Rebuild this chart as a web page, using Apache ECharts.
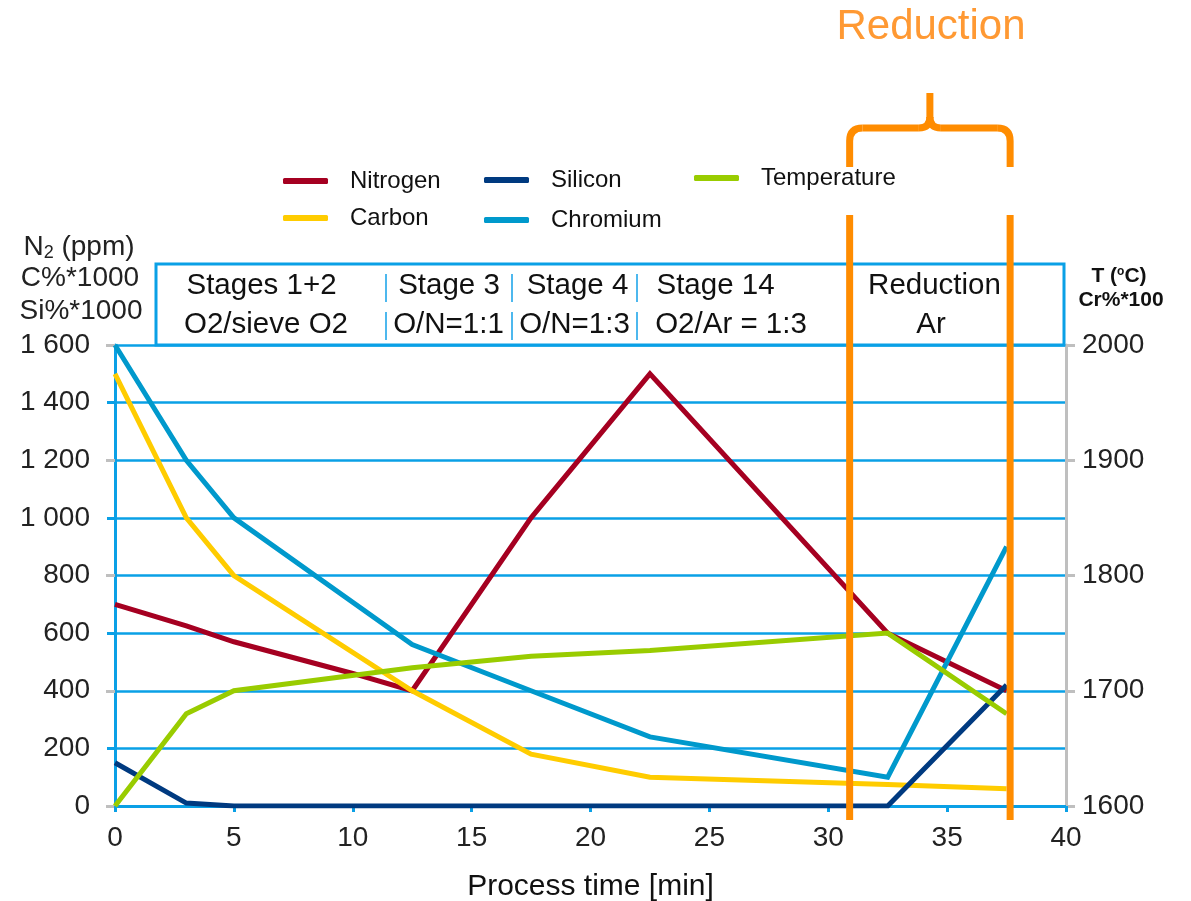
<!DOCTYPE html>
<html><head><meta charset="utf-8">
<script src="https://cdn.jsdelivr.net/npm/echarts@6/dist/echarts.min.js"></script>
<style>html,body{margin:0;padding:0;background:#fff}#c{width:1191px;height:901px}</style>
</head><body><div id="c"></div>
<script>
// ---- data ----
const nitrogenTime = [0, 3, 5, 10, 12.5, 17.5, 22.5, 32.5, 37.5];
const nitrogen     = [700, 625, 570, 460, 400, 1000, 1500, 600, 400];
const carbonTime   = [0, 3, 5, 12.5, 17.5, 22.5, 32.5, 37.5];
const carbon       = [1500, 1000, 800, 400, 180, 100, 75, 60];
const siliconTime  = [0, 3, 5, 32.5, 37.5];
const silicon      = [150, 10, 0, 0, 420];
const chromiumTime = [0, 3, 5, 12.5, 17.5, 22.5, 32.5, 37.5];
const chromium     = [2000, 1900, 1850, 1740, 1700, 1660, 1625, 1825]; // Cr%*100 (right axis)
const tempTime     = [0, 3, 5, 12.5, 17.5, 22.5, 32.5, 37.5];
const temperature  = [1600, 1680, 1700, 1720, 1730, 1735, 1750, 1680]; // °C (right axis)
const reductionStart = 30.9, reductionEnd = 37.65;
const stageRow1 = [['Stages 1+2', 261.5], ['Stage 3', 449], ['Stage 4', 577.5], ['Stage 14', 715.5], ['Reduction', 934.5]];
const stageRow2 = [['O2/sieve O2', 266], ['O/N=1:1', 448.5], ['O/N=1:3', 574.5], ['O2/Ar = 1:3', 731], ['Ar', 931]];

const FONT = "'Liberation Sans', Arial, sans-serif";
const BLUE = '#0aa0e6';
const ORANGE = '#ff8c00';
const pair = (xs, ys) => xs.map((x, i) => [x, ys[i]]);

const chart = echarts.init(document.getElementById('c'), null, {renderer: 'canvas'});

function lineSeries(name, data, color, yIdx) {
  return {name, type: 'line', data, yAxisIndex: yIdx, color, showSymbol: false, symbol: 'none',
    lineStyle: {width: 5, color, join: 'miter'}, z: 3, animation: false};
}

const graphics = [];
// header box
graphics.push({type: 'rect', shape: {x: 156, y: 264, width: 908, height: 81},
  style: {fill: 'none', stroke: BLUE, lineWidth: 3}, z: 5});
stageRow1.forEach(([t, x]) => graphics.push({type: 'text', x, y: 286,
  style: {text: t, font: '29.5px ' + FONT, fill: '#111', align: 'center', verticalAlign: 'middle'}, z: 6}));
stageRow2.forEach(([t, x]) => graphics.push({type: 'text', x, y: 325,
  style: {text: t, font: '29.5px ' + FONT, fill: '#111', align: 'center', verticalAlign: 'middle'}, z: 6}));
[386, 512, 637].forEach(x => {
  graphics.push({type: 'line', shape: {x1: x, y1: 274, x2: x, y2: 302}, style: {stroke: '#4db8ee', lineWidth: 2}, z: 6});
  graphics.push({type: 'line', shape: {x1: x, y1: 312, x2: x, y2: 340}, style: {stroke: '#4db8ee', lineWidth: 2}, z: 6});
});
// left axis titles
graphics.push({type: 'text', x: 79, y: 247, style: {
  text: 'N{sub|2} (ppm)', font: '28px ' + FONT, fill: '#222', align: 'center', verticalAlign: 'middle',
  rich: {sub: {fontSize: 18, fontFamily: FONT, fill: '#222', verticalAlign: 'bottom', padding: [12, 0, 0, 0]}}}, z: 6});
graphics.push({type: 'text', x: 80, y: 278, style: {text: 'C%*1000', font: '28px ' + FONT, fill: '#222', align: 'center', verticalAlign: 'middle'}, z: 6});
graphics.push({type: 'text', x: 81, y: 311, style: {text: 'Si%*1000', font: '28px ' + FONT, fill: '#222', align: 'center', verticalAlign: 'middle'}, z: 6});
// right axis titles
graphics.push({type: 'text', x: 1119, y: 276, style: {
  text: 'T ({sup|o}C)', font: 'bold 21px ' + FONT, fill: '#111', align: 'center', verticalAlign: 'middle',
  rich: {sup: {fontSize: 12, fontWeight: 'bold', fontFamily: FONT, fill: '#111', padding: [0, 0, 8, 0]}}}, z: 6});
graphics.push({type: 'text', x: 1121, y: 300, style: {text: 'Cr%*100', font: 'bold 21px ' + FONT, fill: '#111', align: 'center', verticalAlign: 'middle'}, z: 6});
// Reduction title
graphics.push({type: 'text', x: 931, y: 27, style: {text: 'Reduction', font: '42px ' + FONT, fill: '#ff9933', align: 'center', verticalAlign: 'middle'}, z: 6});

const legendCommon = {orient: 'vertical', icon: 'roundRect', itemWidth: 45, itemHeight: 6, padding: 0,
  textStyle: {fontSize: 24, fontFamily: FONT, color: '#111', padding: [0, 0, 0, 17], lineHeight: 26}};

chart.setOption({
  animation: false,
  backgroundColor: '#fff',
  textStyle: {fontFamily: FONT},
  grid: {left: 115, right: 125, top: 345, bottom: 95, containLabel: false, outerBoundsMode: 'none'},
  legend: [
    Object.assign({}, legendCommon, {left: 283, top: 168, itemGap: 11, data: ['Nitrogen', 'Carbon']}),
    Object.assign({}, legendCommon, {left: 484, top: 167, itemGap: 14, data: ['Silicon', 'Chromium']}),
    Object.assign({}, legendCommon, {left: 694, top: 165, data: ['Temperature']})
  ],
  xAxis: {type: 'value', min: 0, max: 40, interval: 5,
    name: 'Process time [min]', nameLocation: 'middle', nameGap: 66,
    nameTextStyle: {fontSize: 30, fontFamily: FONT, color: '#111'},
    axisLine: {show: true, onZero: false, lineStyle: {color: BLUE, width: 3}},
    axisTick: {show: true, length: 6, lineStyle: {color: BLUE, width: 3}},
    axisLabel: {fontSize: 28, fontFamily: FONT, color: '#222', margin: 18},
    splitLine: {show: false}},
  yAxis: [
    {type: 'value', position: 'left', min: 0, max: 1600, interval: 200,
      axisLine: {show: true, onZero: false, lineStyle: {color: BLUE, width: 3}},
      axisTick: {show: true, length: 8, lineStyle: {color: BLUE, width: 3}},
      axisLabel: {fontSize: 28, fontFamily: FONT, color: '#222', margin: 25,
        formatter: v => String(v).replace(/\B(?=(\d{3})+$)/g, ' ')},
      splitLine: {show: true, lineStyle: {color: BLUE, width: 2.5}}},
    {type: 'value', position: 'right', min: 1600, max: 2000, interval: 100,
      axisLine: {show: true, onZero: false, lineStyle: {color: '#bfbfbf', width: 3}},
      axisTick: {show: true, length: 9, lineStyle: {color: '#bfbfbf', width: 3}},
      axisLabel: {fontSize: 28, fontFamily: FONT, color: '#222', margin: 16, formatter: v => String(v)},
      splitLine: {show: false}},
    {type: 'value', position: 'right', min: 1600, max: 2000, interval: 100,
      axisLine: {show: false}, axisLabel: {show: false}, splitLine: {show: false},
      axisTick: {show: true, inside: true, length: 9, lineStyle: {color: '#bfbfbf', width: 3}}}
  ],
  series: [
    lineSeries('Nitrogen', pair(nitrogenTime, nitrogen), '#a50021', 0),
    lineSeries('Carbon', pair(carbonTime, carbon), '#ffcc00', 0),
    lineSeries('Silicon', pair(siliconTime, silicon), '#003a80', 0),
    lineSeries('Chromium', pair(chromiumTime, chromium), '#0099cc', 1),
    lineSeries('Temperature', pair(tempTime, temperature), '#99cc00', 1)
  ],
  graphic: graphics
});

// reduction markers, positioned through the x axis scale
const xs = chart.convertToPixel({xAxisIndex: 0}, reductionStart);
const xe = chart.convertToPixel({xAxisIndex: 0}, reductionEnd);
const xm = (xs + xe) / 2;
const os = {stroke: ORANGE, lineWidth: 7, fill: 'none', lineCap: 'butt'};
const extra = [
  {type: 'line', shape: {x1: xs, y1: 215, x2: xs, y2: 820}, style: os, z: 10},
  {type: 'line', shape: {x1: xe, y1: 215, x2: xe, y2: 820}, style: os, z: 10},
  // brace
  {type: 'polyline', shape: {points: [[xs, 167], [xs, 141]]}, style: os, z: 10},
  {type: 'bezierCurve', shape: {x1: xs, y1: 141, cpx1: xs, cpy1: 128, x2: xs + 13, y2: 128}, style: os, z: 10},
  {type: 'polyline', shape: {points: [[xs + 13, 128], [xm - 11, 128]]}, style: os, z: 10},
  {type: 'bezierCurve', shape: {x1: xm - 11, y1: 128, cpx1: xm, cpy1: 128, x2: xm, y2: 117}, style: os, z: 10},
  {type: 'polyline', shape: {points: [[xm, 118], [xm, 93]]}, style: os, z: 10},
  {type: 'bezierCurve', shape: {x1: xm, y1: 117, cpx1: xm, cpy1: 128, x2: xm + 11, y2: 128}, style: os, z: 10},
  {type: 'polyline', shape: {points: [[xm + 11, 128], [xe - 13, 128]]}, style: os, z: 10},
  {type: 'bezierCurve', shape: {x1: xe - 13, y1: 128, cpx1: xe, cpy1: 128, x2: xe, y2: 141}, style: os, z: 10},
  {type: 'polyline', shape: {points: [[xe, 141], [xe, 167]]}, style: os, z: 10}
];
chart.setOption({graphic: graphics.concat(extra)});
</script></body></html>
